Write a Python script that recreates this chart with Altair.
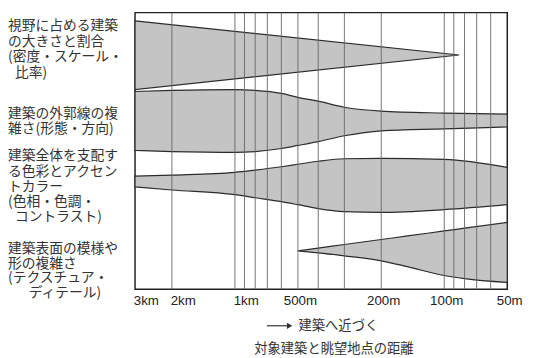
import altair as alt
import pandas as pd

# ---- x axis (distance to the building, metres; log scale, far -> near) ----
tick_values = [3000, 2000, 1000, 500, 200, 100, 50]
tick_labels = ["3km", "2km", "1km", "500m", "200m", "100m", "50m"]
grid_dist = [2000, 1000, 900, 800, 700, 600, 500, 400, 300, 200, 100, 90, 80, 70, 60]

# ---- bands (relative band position, 0 = bottom, 100 = top) ----
# 1: size / proportion of the building in the field of view
b1_dist = [3000, 85]
b1_hi = [97.0, 84.7]
b1_lo = [72.2, 84.7]

# 2: complexity of outline, 3: dominant colour / accent colour
b23_dist = [3000, 2000, 1000, 800, 600, 500, 400, 300, 200, 100, 50]
b2_hi = [71.5, 71.9, 72.2, 71.9, 70.8, 69.4, 68.0, 65.8, 64.4, 63.7, 63.3]
b2_lo = [50.2, 49.8, 49.5, 49.8, 50.9, 52.0, 53.4, 55.5, 57.3, 58.0, 58.7]
b3_hi = [40.9, 41.3, 42.3, 43.1, 44.3, 45.2, 46.3, 47.2, 47.3, 47.0, 44.1]
b3_lo = [37.0, 35.9, 34.2, 33.1, 31.7, 30.6, 29.2, 28.1, 27.8, 28.8, 30.6]

# 4: surface pattern / texture
b4_dist = [500, 400, 300, 200, 150, 100, 80, 50]
b4_hi = [13.9, 14.9, 16.2, 18.0, 19.3, 21.1, 22.1, 24.2]
b4_lo = [13.9, 13.2, 12.1, 10.3, 8.2, 5.0, 3.9, 2.5]

# ---- row labels on the left (\u200b keeps the indent from being trimmed) ----
lab_lines = [
    "視野に占める建築", "の大きさと割合", "(密度・スケール・", "\u200b\u2002比率)",
    "建築の外郭線の複", "雑さ(形態・方向)",
    "建築全体を支配す", "る色彩とアクセン", "トカラー", "(色相・色調・", "\u200b\u2002コントラスト)",
    "建築表面の模様や", "形の複雑さ", "(テクスチュア・", "\u200b\u3000\u2002ディテール)",
]
lab_pos = [95.0, 89.5, 84.0, 78.3,
           63.3, 57.8,
           48.0, 42.3, 37.0, 31.7, 26.0,
           14.6, 9.3, 3.9, -1.4]

caption1 = "建築へ近づく"
caption2 = "対象建築と眺望地点の距離"

JP = "Noto Sans CJK JP"
FILL = "#c4c4c4"
EDGE = "#2b2b2b"

x_scale = alt.Scale(type="log", domain=[50, 3000], reverse=True, nice=False)
y_scale = alt.Scale(domain=[0, 100], nice=False, zero=False)

label_expr = "".join(f"datum.value == {v} ? '{t}' : " for v, t in zip(tick_values, tick_labels)) + "''"
x_axis = alt.Axis(
    values=tick_values,
    labelExpr=label_expr,
    ticks=False, domain=False, grid=False, title=None,
    labelFont="Liberation Sans", labelFontSize=13.5, labelColor="#222",
    labelPadding=4, labelFlush=False, labelOverlap=False, labelBound=False,
    labelOffset={"condition": {"test": "datum.value >= 1000", "value": 11}, "value": 2},
)


def band(dist, hi, lo, interp):
    df = pd.DataFrame({"d": dist, "hi": hi, "lo": lo})
    return alt.Chart(df).mark_area(
        fill=FILL, stroke=EDGE, strokeWidth=1.2, interpolate=interp
    ).encode(
        x=alt.X("d:Q", scale=x_scale, axis=x_axis),
        y=alt.Y("hi:Q", scale=y_scale, axis=None),
        y2="lo:Q",
    )


band1 = band(b1_dist, b1_hi, b1_lo, "linear")
band2 = band(b23_dist, b2_hi, b2_lo, "monotone")
band3 = band(b23_dist, b3_hi, b3_lo, "monotone")
band4 = band(b4_dist, b4_hi, b4_lo, "monotone")

rules = alt.Chart(pd.DataFrame({"d": grid_dist})).mark_rule(
    color="#666666", strokeWidth=0.9
).encode(x=alt.X("d:Q", scale=x_scale, axis=x_axis))

labels = alt.Chart(pd.DataFrame({"t": lab_lines, "v": lab_pos})).mark_text(
    align="left", baseline="middle", font=JP, fontSize=14, color="#333"
).encode(
    x=alt.value(-129),
    y=alt.Y("v:Q", scale=y_scale, axis=None),
    text="t:N",
)

cap1 = alt.Chart(pd.DataFrame({"t": [caption1]})).mark_text(
    align="left", baseline="middle", font=JP, fontSize=13.5, color="#333"
).encode(x=alt.value(166), y=alt.value(318), text="t:N")

cap2 = alt.Chart(pd.DataFrame({"t": [caption2]})).mark_text(
    align="center", baseline="middle", font=JP, fontSize=13.5, color="#333"
).encode(x=alt.value(202), y=alt.value(342), text="t:N")

arrow_line = alt.Chart(pd.DataFrame({"a": [0]})).mark_rule(
    color="#333", strokeWidth=1.2
).encode(x=alt.value(134), x2=alt.value(156), y=alt.value(318))

arrow_head = alt.Chart(pd.DataFrame({"a": [0]})).mark_point(
    shape="triangle-right", filled=True, size=40, color="#333", opacity=1
).encode(x=alt.value(157), y=alt.value(318))

chart = alt.layer(
    band1, band2, band3, band4, rules, labels, cap1, cap2, arrow_line, arrow_head
).properties(
    width=378,
    height=281,
    autosize=alt.AutoSizeParams(type="none"),
    padding={"left": 129, "top": 2, "right": 18, "bottom": 66},
    background="white",
).configure_view(stroke="#222", strokeWidth=1.5)

chart.save("out.html", embed_options={"renderer": "svg", "actions": False})
